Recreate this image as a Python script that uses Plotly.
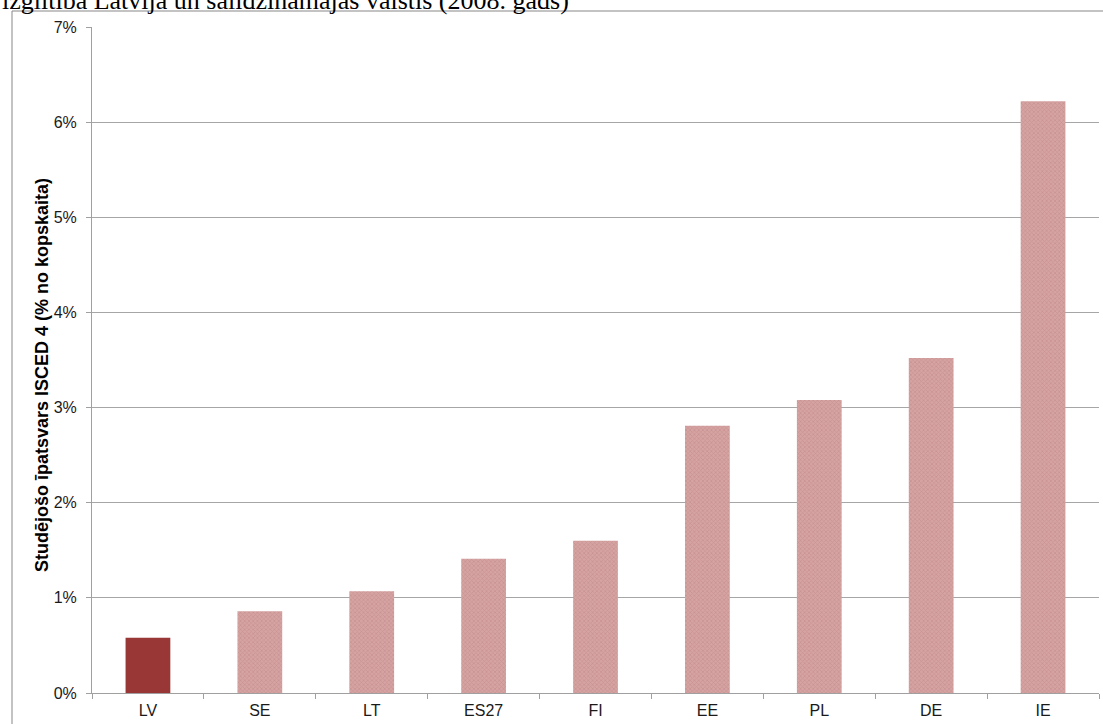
import plotly.graph_objects as go

# Share of students in ISCED 4 programmes, 2008
countries = ["LV", "SE", "LT", "ES27", "FI", "EE", "PL", "DE", "IE"]
shares = [0.58, 0.86, 1.07, 1.41, 1.60, 2.81, 3.08, 3.52, 6.22]  # percent
y_ticks = [0, 1, 2, 3, 4, 5, 6, 7]

W, H = 1103, 724
L, R, T, B = 92, 4, 27, 31
pw, ph = W - L - R, H - T - B


def px_x(x):
    return (x - L) / pw


def px_y(y):
    return (H - B - y) / ph


values = [v / 100 for v in shares]
highlight = "LV"

fig = go.Figure()

# Latvia drawn solid, the other countries with a fine hatched fill
fig.add_trace(go.Bar(
    x=[c for c in countries if c == highlight],
    y=[v for c, v in zip(countries, values) if c == highlight],
    marker=dict(color="#983735", line=dict(width=0)),
    showlegend=False,
))
fig.add_trace(go.Bar(
    x=[c for c in countries if c != highlight],
    y=[v for c, v in zip(countries, values) if c != highlight],
    marker=dict(
        color="#d6a3a3",
        line=dict(width=0),
        pattern=dict(shape="x", fgcolor="#bd8181", size=3, solidity=0.45),
    ),
    showlegend=False,
))

fig.update_layout(
    width=W, height=H,
    margin=dict(l=L, r=R, t=T, b=B, pad=0),
    paper_bgcolor="white",
    plot_bgcolor="white",
    bargap=0.6,
    barmode="overlay",
    font=dict(family="Liberation Sans, Arial, sans-serif", size=16, color="#1a1a1a"),
    xaxis=dict(
        type="category",
        categoryorder="array",
        categoryarray=countries,
        showline=True, linecolor="#a0a0a0", linewidth=1,
        ticks="outside", tickson="boundaries", ticklen=5, tickcolor="#a0a0a0",
        showgrid=False,
        tickfont=dict(size=16),
        ticklabelstandoff=3,
    ),
    yaxis=dict(
        range=[0, 0.07],
        tickvals=[t / 100 for t in y_ticks],
        ticktext=[f"{t}%" for t in y_ticks],
        showline=True, linecolor="#a0a0a0", linewidth=1,
        ticks="outside", ticklen=5, tickcolor="#a0a0a0",
        showgrid=True, gridcolor="#a6a6a6", gridwidth=1,
        zeroline=False,
        tickfont=dict(size=16),
        ticklabelstandoff=6,
    ),
    shapes=[
        dict(
            type="rect", xref="paper", yref="paper",
            x0=px_x(12), y0=-0.2, x1=1.2, y1=px_y(11),
            line=dict(color="#878787", width=1),
            fillcolor="rgba(0,0,0,0)", layer="below",
        )
    ],
    annotations=[
        dict(
            text="izglītība Latvijā un salīdzināmajās valstīs (2008. gads)",
            xref="paper", yref="paper",
            x=px_x(0), y=px_y(17),
            xanchor="left", yanchor="bottom",
            showarrow=False,
            font=dict(family="Liberation Serif, Times New Roman, serif", size=26, color="#000000"),
        ),
        dict(
            text="<b>Studējošo īpatsvars ISCED 4 (% no kopskaita)</b>",
            xref="paper", yref="paper",
            x=px_x(42), y=px_y(375),
            xanchor="center", yanchor="middle",
            textangle=-90,
            showarrow=False,
            font=dict(size=18, color="#000000"),
        ),
    ],
)

fig.write_html("out.html")
